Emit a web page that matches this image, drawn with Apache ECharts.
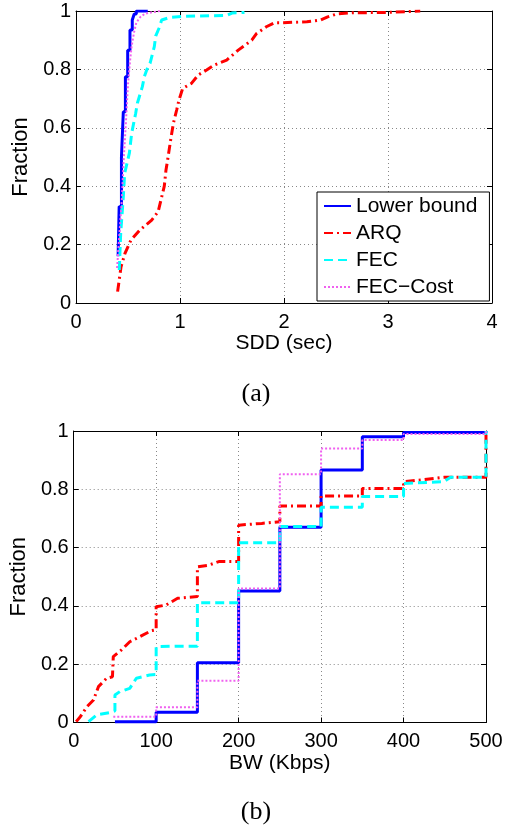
<!DOCTYPE html>
<html>
<head>
<meta charset="utf-8">
<script src="https://cdn.jsdelivr.net/npm/echarts@6/dist/echarts.min.js"></script>
<style>
html,body{margin:0;padding:0;background:#fff;}
#chart{width:506px;height:828px;}
</style>
</head>
<body>
<div id="chart"></div>
<script>
// ---- Panel (a): SDD CDF ----
const sddTicksX = [0, 1, 2, 3, 4];
const fracTicks = [0, 0.2, 0.4, 0.6, 0.8, 1];
const seriesNames = ['Lower bound', 'ARQ', 'FEC', 'FEC\u2212Cost'];

const sddLowerX = [0.405,0.415,0.437,0.455,0.475,0.497,0.519,0.541,0.56,0.58,0.69];
const sddLowerY = [0.16,0.33,0.50,0.655,0.775,0.866,0.935,0.969,0.99,1.0,1.0];

const sddArqX = [0.40,0.433,0.471,0.529,0.615,0.728,0.79,0.817,0.849,0.865,0.881,0.91,0.936,0.968,0.99,1.026,1.11,1.176,1.256,1.33,1.449,1.56,1.69,1.737,1.83,1.91,1.99,2.22,2.35,2.42,2.51,2.66,2.99,3.31];
const sddArqY = [0.039,0.124,0.17,0.216,0.25,0.284,0.313,0.353,0.40,0.455,0.49,0.558,0.615,0.661,0.695,0.735,0.752,0.781,0.798,0.815,0.832,0.866,0.90,0.923,0.946,0.96,0.96,0.963,0.969,0.98,0.99,0.994,0.995,1.0];

const sddFecX = [0.416,0.43,0.455,0.468,0.513,0.535,0.574,0.59,0.638,0.657,0.68,0.712,0.753,0.766,0.798,0.824,0.904,1.05,1.45,1.5,1.62];
const sddFecY = [0.113,0.24,0.364,0.444,0.513,0.581,0.65,0.684,0.741,0.775,0.798,0.821,0.878,0.914,0.941,0.969,0.978,0.982,0.985,0.993,0.995];

const sddCostX = [0.395,0.42,0.44,0.46,0.48,0.50,0.52,0.535,0.56,0.58,0.62,0.66,0.72,0.81];
const sddCostY = [0.12,0.25,0.35,0.50,0.62,0.75,0.83,0.88,0.93,0.96,0.98,0.99,0.995,1.0];

// ---- Panel (b): BW CDF ----
const bwTicksX = [0, 100, 200, 300, 400, 500];

const bwLowerX = [50,100,150,200,250,300,350,400,500];
const bwLowerY = [0.003,0.035,0.205,0.451,0.67,0.866,0.98,0.995,1.0];

const bwArqX = [3,8,16,24,30,40,47,48,58,68,80,94,100,100,112,126,150,150,164,176,200,200,228,250,250,300,300,350,350,400,400,421,449,500,500];
const bwArqY = [0.003,0.02,0.054,0.077,0.123,0.152,0.157,0.226,0.249,0.277,0.294,0.315,0.318,0.397,0.403,0.426,0.432,0.534,0.54,0.552,0.552,0.677,0.683,0.689,0.743,0.743,0.777,0.777,0.803,0.803,0.826,0.832,0.841,0.841,1.0];

const bwFecX = [18,28,44,50,50,56,68,76,92,100,100,128,150,150,200,200,250,250,300,300,350,350,400,400,449,457,500,500];
const bwFecY = [0.003,0.026,0.034,0.04,0.094,0.106,0.117,0.152,0.163,0.165,0.26,0.262,0.262,0.411,0.411,0.617,0.617,0.672,0.672,0.738,0.738,0.775,0.775,0.82,0.826,0.841,0.841,1.0];

const bwCostX = [48,100,150,200,250,300,350,400,500];
const bwCostY = [0.02,0.052,0.143,0.46,0.852,0.94,0.969,0.99,1.0];

function zip(xs, ys) { return xs.map((x, i) => [x, ys[i]]); }

const FONT = "'Liberation Sans', Arial, Helvetica, sans-serif";
const styles = [
  { color: '#0000ff', width: 3, type: 'solid' },
  { color: '#ff0000', width: 3, type: [9, 4, 2, 4] },
  { color: '#00ffff', width: 3, type: [9, 5] },
  { color: '#f060f0', width: 2, type: [2, 2] }
];

function mainX(grid, min, max, interval, name, gap) {
  return {
    type: 'value', gridIndex: grid, min: min, max: max, interval: interval, position: 'bottom',
    name: name, nameLocation: 'middle', nameGap: gap,
    nameTextStyle: { fontFamily: FONT, fontSize: 21, color: '#000' },
    axisLine: { show: true, onZero: false, lineStyle: { color: '#000', width: 1 } },
    axisTick: { show: true, inside: true, length: 5, lineStyle: { color: '#000' } },
    axisLabel: { show: true, margin: 9, fontFamily: FONT, fontSize: 20, color: '#000' },
    splitLine: { show: true, lineStyle: { color: '#888', width: 1, type: [1, 3] } }
  };
}
function sideX(grid, min, max, interval) {
  return {
    type: 'value', gridIndex: grid, min: min, max: max, interval: interval, position: 'top',
    axisLine: { show: true, onZero: false, lineStyle: { color: '#000', width: 1 } },
    axisTick: { show: true, inside: true, length: 5, lineStyle: { color: '#000' } },
    axisLabel: { show: false }, splitLine: { show: false }
  };
}
function mainY(grid, gap) {
  return {
    type: 'value', gridIndex: grid, min: 0, max: 1, interval: 0.2, position: 'left',
    name: 'Fraction', nameLocation: 'middle', nameGap: gap, nameRotate: 90,
    nameTextStyle: { fontFamily: FONT, fontSize: 22, color: '#000' },
    axisLine: { show: true, onZero: false, lineStyle: { color: '#000', width: 1 } },
    axisTick: { show: true, inside: true, length: 5, lineStyle: { color: '#000' } },
    axisLabel: { show: true, margin: 5, fontFamily: FONT, fontSize: 20, color: '#000' },
    splitLine: { show: true, lineStyle: { color: '#888', width: 1, type: [1, 3] } }
  };
}
function sideY(grid) {
  return {
    type: 'value', gridIndex: grid, min: 0, max: 1, interval: 0.2, position: 'right',
    axisLine: { show: true, onZero: false, lineStyle: { color: '#000', width: 1 } },
    axisTick: { show: true, inside: true, length: 5, lineStyle: { color: '#000' } },
    axisLabel: { show: false }, splitLine: { show: false }
  };
}

function mk(name, idx, data, xi, yi, step) {
  const s = styles[idx];
  return {
    name: name, type: 'line', xAxisIndex: xi, yAxisIndex: yi, data: data,
    step: step ? 'end' : false, showSymbol: false, symbol: 'none',
    color: s.color, lineStyle: { color: s.color, width: s.width, type: s.type },
    animation: false, clip: true
  };
}

const chart = echarts.init(document.getElementById('chart'), null, { renderer: 'canvas' });
chart.setOption({
  backgroundColor: '#fff',
  animation: false,
  grid: [
    { left: 76, top: 11, width: 416, height: 292 },
    { left: 70, top: 431, width: 416, height: 291.5 }
  ],
  xAxis: [
    mainX(0, 0, 4, 1, 'SDD (sec)', 25),
    sideX(0, 0, 4, 1),
    mainX(1, 0, 500, 100, 'BW (Kbps)', 25),
    sideX(1, 0, 500, 100)
  ],
  yAxis: [mainY(0, 35), sideY(0), mainY(1, 32), sideY(1)],
  legend: {
    show: true, orient: 'vertical', left: 317, top: 192,
    data: seriesNames,
    itemWidth: 27, itemHeight: 14, itemGap: 5,
    padding: [3, 12, 3, 6],
    borderColor: '#000', borderWidth: 1, backgroundColor: '#fff',
    itemStyle: { opacity: 0 },
    textStyle: { fontFamily: FONT, fontSize: 21, color: '#000', lineHeight: 22 },
    selectedMode: false
  },
  graphic: [
    { type: 'text', x: 256, y: 394, style: { text: '(a)', font: "26px 'Liberation Serif', 'Times New Roman', serif", fill: '#000', textAlign: 'center', textVerticalAlign: 'middle' } },
    { type: 'text', x: 256, y: 812, style: { text: '(b)', font: "26px 'Liberation Serif', 'Times New Roman', serif", fill: '#000', textAlign: 'center', textVerticalAlign: 'middle' } }
  ],
  series: [
    mk(seriesNames[0], 0, zip(sddLowerX, sddLowerY), 0, 0, true),
    mk(seriesNames[1], 1, zip(sddArqX, sddArqY), 0, 0, false),
    mk(seriesNames[2], 2, zip(sddFecX, sddFecY), 0, 0, false),
    mk(seriesNames[3], 3, zip(sddCostX, sddCostY), 0, 0, false),
    mk(seriesNames[0], 0, zip(bwLowerX, bwLowerY), 2, 2, true),
    mk(seriesNames[1], 1, zip(bwArqX, bwArqY), 2, 2, false),
    mk(seriesNames[2], 2, zip(bwFecX, bwFecY), 2, 2, false),
    mk(seriesNames[3], 3, zip(bwCostX, bwCostY), 2, 2, true)
  ]
});
</script>
</body>
</html>
